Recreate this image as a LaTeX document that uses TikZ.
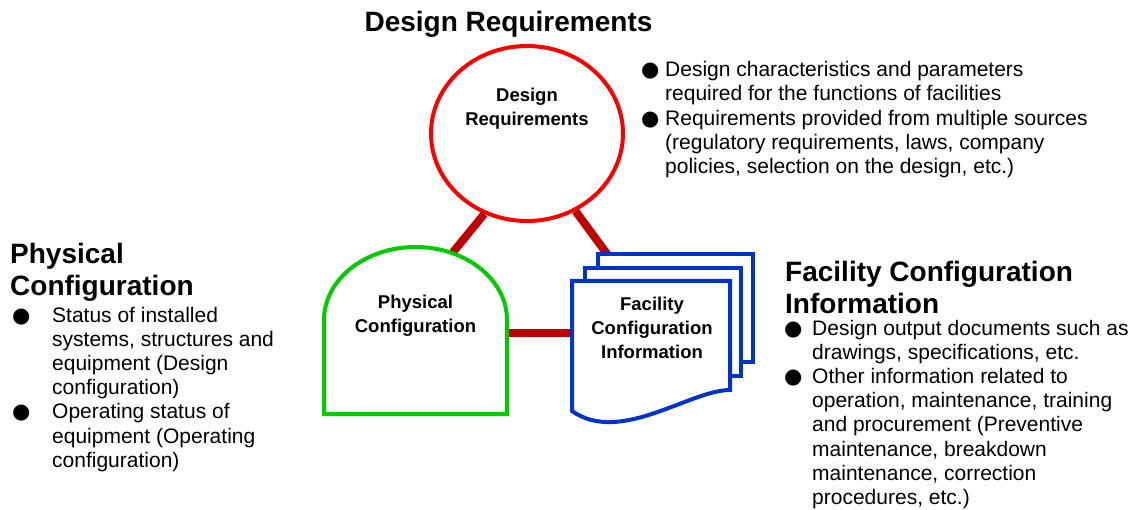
\documentclass[tikz,border=0pt]{standalone}
\usepackage{fontspec}
\setmainfont{Liberation Sans}
\newfontfamily\dejavu{DejaVu Sans}
\usetikzlibrary{shapes.geometric,backgrounds}

\definecolor{linkred}{RGB}{192,0,0}
\definecolor{reqred}{RGB}{255,0,0}
\definecolor{physgreen}{RGB}{0,204,0}
\definecolor{docblue}{RGB}{0,51,204}

% bullet in a box of given width
\newcommand{\bul}[1]{\makebox[#1][l]{\dejavu ●}}

\begin{document}
\begin{tikzpicture}[x=1pt,y=-1pt,
        title/.style={font=\bfseries\fontsize{28}{32}\selectfont, inner sep=0pt, align=left},
        label/.style={font=\bfseries\fontsize{18.5}{24}\selectfont, inner sep=0pt, align=center},
        list/.style={font=\fontsize{21}{24.2}\selectfont, inner sep=0pt, align=left},
        link/.style={linkred, line width=8pt},
        page/.style={docblue, line width=4pt, fill=white}]
        \useasboundingbox (0,0) rectangle (1139,510);

        % design requirements circle
        \node[ellipse, draw=reqred, line width=4pt, fill=white, minimum width=192pt, minimum height=175pt, inner sep=0pt] (req) at (527,133.5) {};
        \node[label, anchor=base] (reqtxt) at (527,126) {Design\\Requirements};

        % physical configuration arch
        \draw[physgreen, line width=4pt, fill=white] (324,414) -- (324,320) .. controls (324,279.7) and (365,247) .. (415.5,247) .. controls (466,247) and (507,279.7) .. (507,320) -- (507,414) -- cycle;
        \node[label, anchor=base] (phystxt) at (415.5,332) {Physical\\Configuration};

        % stacked documents
        \draw[page] (598,254) rectangle (753,362);
        \draw[page] (585,268) rectangle (741,376);
        \draw[page] (572,281) -- (730,281) -- (730,390) .. controls (690,390) and (620,445) .. (572,411) -- cycle;
        \node[label, anchor=base] (facitxt) at (652,358) {Facility\\Configuration\\Information};

        % connectors
        \coordinate (physT) at (445,262);
        \coordinate (physR) at (500,333);
        \coordinate (faciT) at (613,262);
        \coordinate (faciL) at (580,333);
        \begin{pgfonlayer}{background}
            \draw[link] (req.242) -- (physT);
            \draw[link] (req.-58) -- (faciT);
            \draw[link] (physR) -- (faciL);
        \end{pgfonlayer}

        % titles
        \node[title, anchor=base] (reqtitle) at (508.5,32) {Design Requirements};
        \node[title, anchor=base west] (phystitle) at (10,295) {Physical\\Configuration};
        \node[title, anchor=base west] (facititle) at (785,313) {Facility Configuration\\Information};

        % bullet lists
        \node[list, anchor=base west] (reqlist) at (641,173.5) {\bul{24pt}Design characteristics and parameters\\
            \hspace*{24pt}required for the functions of facilities\\
            \bul{24pt}Requirements provided from multiple sources\\
            \hspace*{24pt}(regulatory requirements, laws, company\\
            \hspace*{24pt}policies, selection on the design, etc.)};
        \node[list, anchor=base west] (physlist) at (12,467.2) {\bul{40pt}Status of installed\\
            \hspace*{40pt}systems, structures and\\
            \hspace*{40pt}equipment (Design\\
            \hspace*{40pt}configuration)\\
            \bul{40pt}Operating status of\\
            \hspace*{40pt}equipment (Operating\\
            \hspace*{40pt}configuration)};
        \node[list, anchor=base west] (facilist) at (784,504.4) {\bul{28pt}Design output documents such as\\
            \hspace*{28pt}drawings, specifications, etc.\\
            \bul{28pt}Other information related to\\
            \hspace*{28pt}operation, maintenance, training\\
            \hspace*{28pt}and procurement (Preventive\\
            \hspace*{28pt}maintenance, breakdown\\
            \hspace*{28pt}maintenance, correction\\
            \hspace*{28pt}procedures, etc.)};
\end{tikzpicture}
\end{document}
